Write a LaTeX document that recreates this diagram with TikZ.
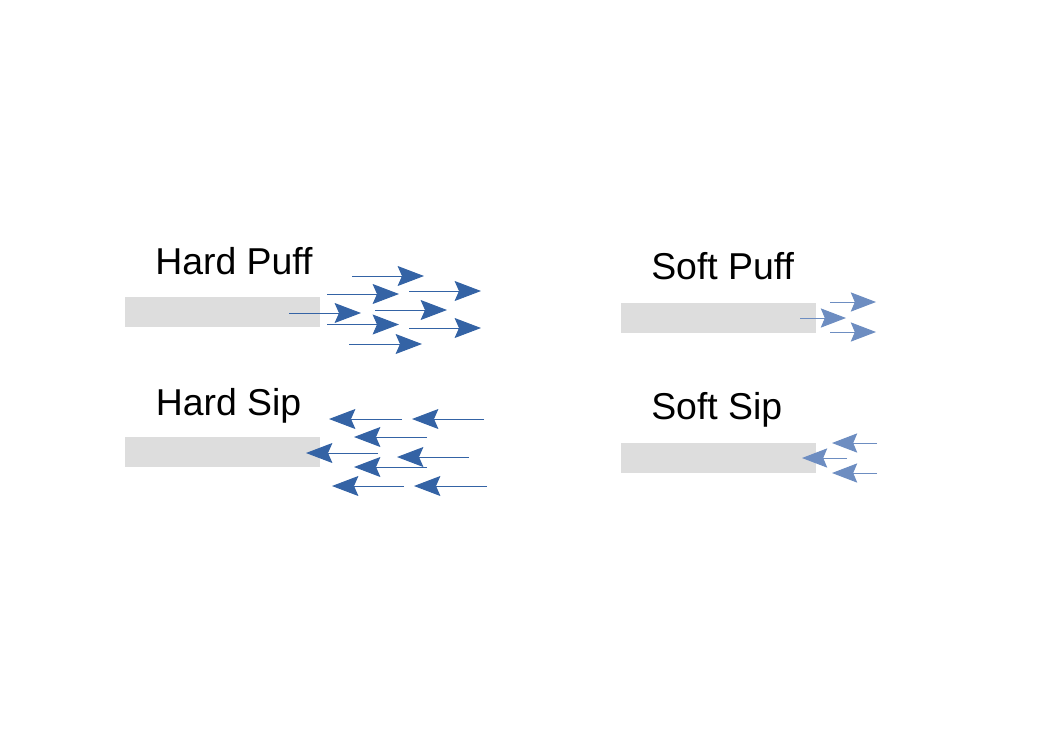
\documentclass[tikz,border=0pt]{standalone}
\usepackage{fontspec}
\setmainfont{Liberation Sans}
\usetikzlibrary{arrows.meta}
\definecolor{hardblue}{HTML}{3463A5}
\definecolor{softblue}{HTML}{6D8DC1}
\definecolor{bargray}{HTML}{DDDDDD}
\tikzset{
  bar/.style={fill=bargray, draw=none},
  lbl/.style={anchor=base west, inner sep=0pt, font=\fontsize{26.6}{30}\selectfont},
  harr/.style={draw=hardblue, line width=0.7pt, -{Stealth[length=0.66cm, width=0.5cm, inset=0.11cm, fill=hardblue]}},
  sarr/.style={draw=softblue, line width=0.7pt, -{Stealth[length=0.63cm, width=0.48cm, inset=0.1cm, fill=softblue]}}
}
\begin{document}
\begin{tikzpicture}[x=0.025cm, y=-0.025cm]
\useasboundingbox (0,0) rectangle (1040,739);
% bars
\fill[bar] (125,297) rectangle (320,327) coordinate (hpbar);
\fill[bar] (125,437) rectangle (320,467) coordinate (hsbar);
\fill[bar] (621,303) rectangle (816,333) coordinate (spbar);
\fill[bar] (621,443) rectangle (816,473) coordinate (ssbar);
% labels
\node[lbl] (hpl) at (155,274.5) {Hard Puff};
\node[lbl] (hsl) at (155.5,415) {Hard Sip};
\node[lbl] (spl) at (651,279.5) {Soft Puff};
\node[lbl] (ssl) at (651,419.5) {Soft Sip};
% hard puff arrows
\draw[harr] (352,276) coordinate (hp1a) -- (424,276) coordinate (hp1b);
\draw[harr] (327,294) coordinate (hp2a) -- (399,294) coordinate (hp2b);
\draw[harr] (409,291) coordinate (hp3a) -- (481,291) coordinate (hp3b);
\draw[harr] (289,313) coordinate (hp4a) -- (361,313) coordinate (hp4b);
\draw[harr] (375,310) coordinate (hp5a) -- (447,310) coordinate (hp5b);
\draw[harr] (327,324.5) coordinate (hp6a) -- (399,324.5) coordinate (hp6b);
\draw[harr] (409,328) coordinate (hp7a) -- (481,328) coordinate (hp7b);
\draw[harr] (349,344) coordinate (hp8a) -- (422,344) coordinate (hp8b);
% hard sip arrows
\draw[harr] (402,419) coordinate (hs1a) -- (329,419) coordinate (hs1b);
\draw[harr] (484,419) coordinate (hs2a) -- (412,419) coordinate (hs2b);
\draw[harr] (427,437) coordinate (hs3a) -- (354,437) coordinate (hs3b);
\draw[harr] (378,453) coordinate (hs4a) -- (306,453) coordinate (hs4b);
\draw[harr] (469,457) coordinate (hs5a) -- (397,457) coordinate (hs5b);
\draw[harr] (427,467) coordinate (hs6a) -- (354,467) coordinate (hs6b);
\draw[harr] (404,486) coordinate (hs7a) -- (332,486) coordinate (hs7b);
\draw[harr] (487,486) coordinate (hs8a) -- (414,486) coordinate (hs8b);
% soft puff arrows
\draw[sarr] (830,302) coordinate (sp1a) -- (876,302) coordinate (sp1b);
\draw[sarr] (800,318) coordinate (sp2a) -- (846,318) coordinate (sp2b);
\draw[sarr] (830,332) coordinate (sp3a) -- (876,332) coordinate (sp3b);
% soft sip arrows
\draw[sarr] (877,443) coordinate (ss1a) -- (832,443) coordinate (ss1b);
\draw[sarr] (847,458) coordinate (ss2a) -- (802,458) coordinate (ss2b);
\draw[sarr] (877,473) coordinate (ss3a) -- (832,473) coordinate (ss3b);
\end{tikzpicture}
\end{document}
